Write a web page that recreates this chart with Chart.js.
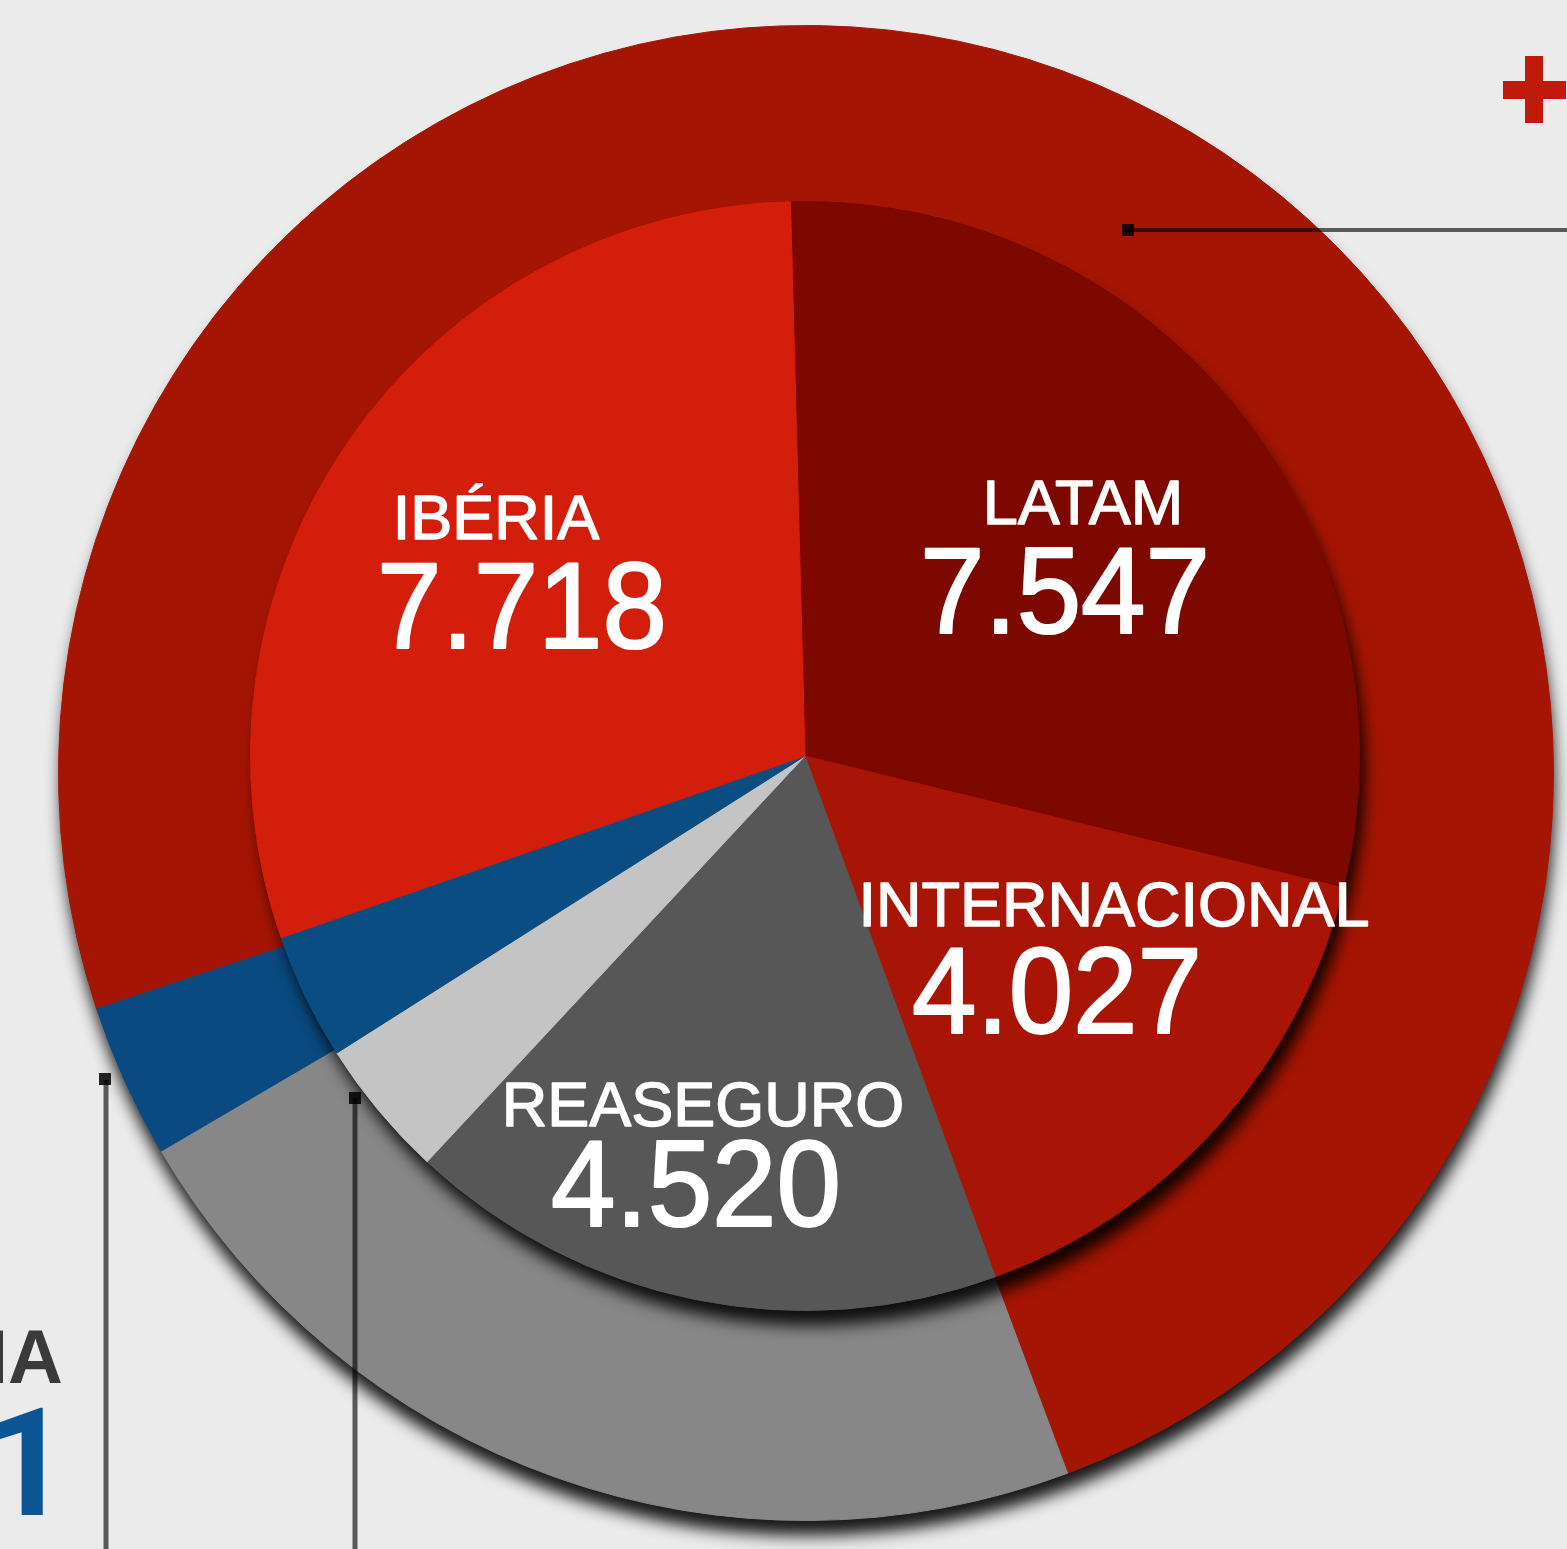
<!DOCTYPE html>
<html>
<head>
<meta charset="utf-8">
<script src="https://cdn.jsdelivr.net/npm/chart.js@4.4.1/dist/chart.umd.min.js"></script>
<style>
  html, body { margin: 0; padding: 0; background: #ebebeb; overflow: hidden; }
  #wrap { position: relative; width: 1567px; height: 1549px; }
  canvas { position: absolute; left: 0; top: 0; }
</style>
</head>
<body>
<div id="wrap">
  <canvas id="outerChart" width="1567" height="1549"></canvas>
  <canvas id="innerChart" width="1567" height="1549"></canvas>
</div>
<script>
// inner pie: areas, clockwise from the top
const innerLabels = ['LATAM', 'INTERNACIONAL', 'REASEGURO', 'GLOBAL RISKS', 'ASISTENCIA', 'IBÉRIA'];
const innerValues = [7.547, 4.027, 4.520, 1.050, 0.950, 7.718];
const innerColors = ['#7c0800', '#a81405', '#575757', '#c4c4c4', '#0a4d83', '#d41e0c'];

// outer ring: groups of areas
const outerLabels = ['SEGURO DIRECTO', 'REASEGURO Y GLOBAL RISKS', 'ASISTENCIA'];
const outerValues = [19.00, 5.68, 0.85];
const outerColors = ['#a51503', '#878787', '#0a4a80'];

// which inner slices get a printed label
const labelled = ['LATAM', 'INTERNACIONAL', 'REASEGURO', 'IBÉRIA'];
// label offsets from pie centre: [name dx, name baseline dy, number dx, number baseline dy]
const labelSpots = {
  'LATAM': [278, -232, 260, -123],
  'INTERNACIONAL': [309, 170, 252, 277],
  'REASEGURO': [-102, 370, -109, 470],
  'IBÉRIA': [-309, -217, -283, -108]
};

function fmt(v) {
  return v.toFixed(3);
}

// one soft shadow under the whole disc
function discShadow(color, blur, ox, oy) {
  return {
    id: 'discShadow',
    beforeDatasetsDraw(chart) {
      const arc = chart.getDatasetMeta(0).data[0];
      const ctx = chart.ctx;
      ctx.save();
      ctx.shadowColor = color;
      ctx.shadowBlur = blur;
      ctx.shadowOffsetX = ox;
      ctx.shadowOffsetY = oy;
      ctx.fillStyle = '#222';
      ctx.beginPath();
      ctx.arc(arc.x, arc.y, arc.outerRadius - 1, 0, Math.PI * 2);
      ctx.fill();
      ctx.restore();
    }
  };
}

const sliceText = {
  id: 'sliceText',
  afterDatasetsDraw(chart) {
    const ctx = chart.ctx;
    const meta = chart.getDatasetMeta(0);
    const cx = meta.data[0].x, cy = meta.data[0].y;
    ctx.save();
    ctx.fillStyle = '#ffffff';
    ctx.strokeStyle = '#ffffff';
    ctx.lineJoin = 'round';
    ctx.textAlign = 'center';
    ctx.textBaseline = 'alphabetic';
    innerLabels.forEach(function (name, i) {
      if (labelled.indexOf(name) < 0) return;
      const s = labelSpots[name];
      ctx.font = '63px "Liberation Sans", Arial, sans-serif';
      ctx.lineWidth = 1.4;
      ctx.fillText(name, cx + s[0], cy + s[1]);
      ctx.strokeText(name, cx + s[0], cy + s[1]);
      ctx.save();
      ctx.translate(cx + s[2], cy + s[3]);
      ctx.scale(0.95, 1);
      ctx.font = '122px "Liberation Sans", Arial, sans-serif';
      ctx.lineWidth = 2.2;
      ctx.fillText(fmt(innerValues[i]), 0, 0);
      ctx.strokeText(fmt(innerValues[i]), 0, 0);
      ctx.restore();
    });
    ctx.restore();
  }
};

// leader lines, dots and cropped side texts of the infographic
const extras = {
  id: 'extras',
  afterDraw(chart) {
    const ctx = chart.ctx;
    ctx.save();
    ctx.strokeStyle = 'rgba(0,0,0,0.62)';
    ctx.fillStyle = 'rgba(0,0,0,0.85)';
    ctx.lineWidth = 4;
    ctx.beginPath();
    ctx.moveTo(1128, 230); ctx.lineTo(1567, 230);
    ctx.stroke();
    ctx.fillRect(1122, 224, 12, 12);

    ctx.lineWidth = 5;
    ctx.beginPath();
    ctx.moveTo(106, 1080); ctx.lineTo(106, 1549);
    ctx.moveTo(355, 1098); ctx.lineTo(355, 1549);
    ctx.stroke();
    ctx.fillRect(99, 1073, 12, 12);
    ctx.fillRect(349, 1092, 12, 12);

    ctx.fillStyle = '#c01a0c';
    ctx.fillRect(1503, 81, 63, 18);
    ctx.fillRect(1525, 56, 18, 67);

    ctx.textAlign = 'right';
    ctx.textBaseline = 'alphabetic';
    ctx.fillStyle = '#3a3a3a';
    ctx.font = 'bold 76px "Liberation Sans", Arial, sans-serif';
    ctx.fillText('IA', 63, 1383);

    // blue figure, cut by the left edge: put the ink's right side at x=43
    ctx.textAlign = 'left';
    ctx.fillStyle = '#0c5595';
    ctx.font = 'bold 150px Roboto, "Noto Sans", sans-serif';
    const m = ctx.measureText('1');
    ctx.fillText('1', 43 - m.actualBoundingBoxRight, 1515);
    ctx.restore();
  }
};

new Chart(document.getElementById('outerChart'), {
  type: 'doughnut',
  data: {
    labels: outerLabels,
    datasets: [{
      data: outerValues,
      backgroundColor: outerColors,
      borderColor: outerColors,
      borderWidth: 1,
      rotation: 251.6,
      clip: false
    }]
  },
  options: {
    responsive: false,
    animation: false,
    cutout: '70%',
    layout: { padding: { left: 58, right: 13, top: 25, bottom: 28 } },
    plugins: { legend: { display: false }, tooltip: { enabled: false } }
  },
  plugins: [discShadow('rgba(0,0,0,0.9)', 16, 2, 16)]
});

new Chart(document.getElementById('innerChart'), {
  type: 'pie',
  data: {
    labels: innerLabels,
    datasets: [{
      data: innerValues,
      backgroundColor: innerColors,
      borderColor: innerColors,
      borderWidth: 1,
      rotation: -1.5,
      clip: false
    }]
  },
  options: {
    responsive: false,
    animation: false,
    layout: { padding: { left: 250, right: 207, top: 201, bottom: 238 } },
    plugins: { legend: { display: false }, tooltip: { enabled: false } }
  },
  plugins: [discShadow('rgba(0,0,0,0.9)', 16, 6, 16), sliceText, extras]
});
</script>
</body>
</html>
